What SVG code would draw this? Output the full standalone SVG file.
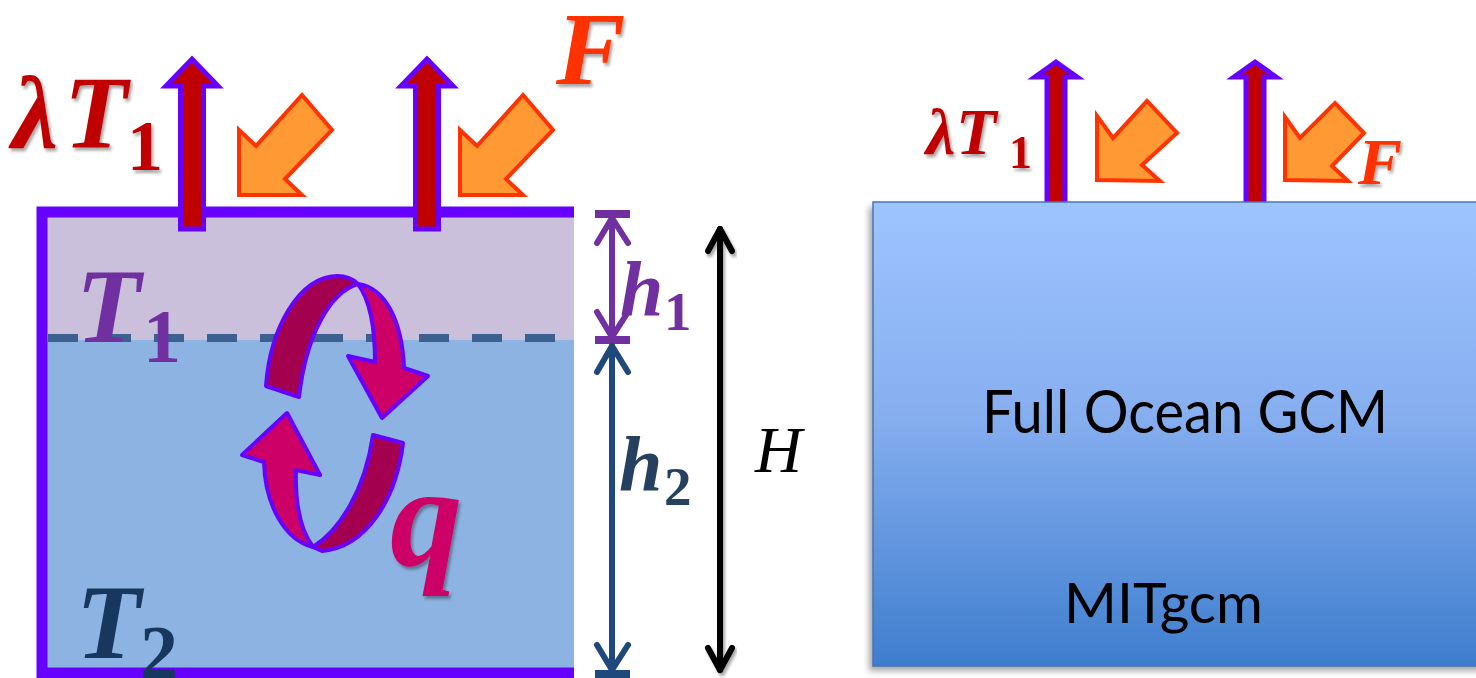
<svg xmlns="http://www.w3.org/2000/svg" width="1476" height="678" viewBox="0 0 1476 678">
<defs>
<style>
.red{fill:#C00000;stroke:#6600FF;stroke-width:5;stroke-linejoin:miter}
.org{fill:#FF9933;stroke:#FF3300;stroke-width:4;stroke-linejoin:miter}
.m{font-family:"Liberation Serif",serif;font-weight:bold;font-style:italic}
.sub{font-family:"Liberation Serif",serif;font-weight:bold;font-style:normal}
.dim{fill:none;stroke-width:6;stroke-linecap:round;stroke-linejoin:round}
.sans{font-family:Lato,"Liberation Sans",sans-serif;fill:#000}
</style>
<filter id="sh" x="-20%" y="-20%" width="140%" height="140%">
<feDropShadow dx="2" dy="3" stdDeviation="1.5" flood-color="#000" flood-opacity="0.35"/>
</filter>
<filter id="bs" x="-10%" y="-10%" width="120%" height="120%">
<feGaussianBlur stdDeviation="3"/>
</filter>
<linearGradient id="gcm" x1="0" y1="0" x2="0" y2="1">
<stop offset="0" stop-color="#9EC4FF"/>
<stop offset="0.45" stop-color="#87AFF0"/>
<stop offset="1" stop-color="#3F7ECE"/>
</linearGradient>
</defs>

<!-- Left panel: two-layer box -->
<g id="box-left">
<rect x="42" y="212" width="532" height="128" fill="#CAC0DC"/>
<rect x="42" y="340" width="532" height="333" fill="#8DB3E2"/>
<line x1="46" y1="338" x2="574" y2="338" stroke="#3C6190" stroke-width="8" stroke-dasharray="30,23" stroke-dashoffset="-2"/>
<path d="M574,212 H42 V673 H574" fill="none" stroke="#6600FF" stroke-width="11"/>
</g>

<g id="flux-left">
<path class="red" d="M180.5,229 V86 H166 L192,59 L218,86 H203.5 V229 Z"/>
<path class="red" d="M415.5,229 V86 H401 L427,59 L453,86 H438.5 V229 Z"/>
<path class="org" d="M239,195 V130 L256,146 L302,95 L332,130 L285,179 L302,195 Z"/>
<path class="org" d="M460,195 V130 L477,146 L523,95 L553,130 L506,179 L523,195 Z"/>
</g>

<g id="label-lambda-left" filter="url(#sh)" fill="#C00000">
<text class="m" x="12" y="148" font-size="104">λ<tspan x="64">T</tspan></text>
<text class="sub" x="127" y="170" font-size="72">1</text>
</g>

<g id="label-F-left" filter="url(#sh)">
<text class="m" x="556" y="84" font-size="104" fill="#FF3300">F</text>
</g>

<g id="label-T1" fill="#7030A0">
<text class="m" x="76" y="342" font-size="106">T</text>
<text class="sub" x="143" y="362" font-size="76">1</text>
</g>

<g id="label-T2" fill="#17375E">
<text class="m" x="76" y="658" font-size="106">T</text>
<text class="sub" x="140" y="678" font-size="76">2</text>
</g>

<g id="circulation" stroke="#6600FF" stroke-width="4" stroke-linejoin="round">
<path d="M266,386 C270,330 298,277 337,276 C346,276 353,279 358,284 C330,292 306,335 299,397 Z" fill="#A30050"/>
<path d="M358,284 C385,288 402,320 404,368 L428,376 L382,418 L348,356 L375,362 C375,325 370,300 358,284 Z" fill="#CC0066"/>
<path d="M373,435 L403,443 C396,500 366,547 322,551 L313,547 C340,530 365,490 373,435 Z" fill="#A30050"/>
<path d="M313,547 C285,540 265,505 264,462 L242,455 L287,413 L320,475 L296,470 C295,505 300,530 313,547 Z" fill="#CC0066"/>
</g>

<g id="label-q" filter="url(#sh)">
<text class="m" x="390" y="565" font-size="145" fill="#CC0066">q</text>
</g>

<!-- Dimension connectors -->
<g id="connectors">
<g stroke="#7030A0" class="dim">
<line x1="612" y1="214" x2="612" y2="338"/>
<line x1="595" y1="214" x2="630" y2="214" stroke-width="8" stroke-linecap="butt"/>
<line x1="595" y1="340" x2="630" y2="340" stroke-width="8" stroke-linecap="butt"/>
<polyline points="597,243 612,218 628,243"/>
<polyline points="597,312 612,337 628,312"/>
</g>
<g stroke="#1F497D" class="dim">
<line x1="612" y1="346" x2="612" y2="672"/>
<line x1="595" y1="674" x2="630" y2="674" stroke-width="8" stroke-linecap="butt"/>
<polyline points="597,372 612,346 628,372"/>
<polyline points="597,645 612,670 628,645"/>
</g>
<g stroke="#000" class="dim" stroke-width="4" filter="url(#sh)">
<line x1="720" y1="229" x2="720" y2="670"/>
<polyline points="708,251 720,229 732,251"/>
<polyline points="708,648 720,670 732,648"/>
</g>
</g>

<g id="label-h1" fill="#7030A0">
<text class="m" x="620" y="315" font-size="78">h</text>
<text class="sub" x="664" y="330" font-size="55">1</text>
</g>
<g id="label-h2" fill="#26405F">
<text class="m" x="619" y="490" font-size="78">h</text>
<text class="sub" x="664" y="505" font-size="55">2</text>
</g>
<g id="label-H">
<text x="755" y="472" font-family="Liberation Serif,serif" font-style="italic" font-size="65" fill="#000">H</text>
</g>

<!-- Right panel -->
<g id="flux-right">
<path class="red" d="M1047,206 V77 H1035 L1056,62 L1077,77 H1065 V206 Z"/>
<path class="red" d="M1246,206 V77 H1234 L1255,62 L1276,77 H1264 V206 Z"/>
<path class="org" d="M1097,180 V116 L1113,138 L1147,101 L1177,133 L1142,165 L1160,181 Z"/>
<path class="org" d="M1285,180 V117 L1300,138 L1335,103 L1364,133 L1332,166 L1348,181 Z"/>
</g>

<g id="box-gcm">
<rect x="869" y="207" width="620" height="464" fill="#000" opacity="0.35" filter="url(#bs)"/>
<rect x="873" y="202" width="610" height="464" fill="url(#gcm)" stroke="#4A76B5" stroke-width="1.5"/>
<text class="sans" x="982" y="433" font-size="60" textLength="406" lengthAdjust="spacingAndGlyphs">Full Ocean GCM</text>
<text class="sans" x="1064" y="623" font-size="56" textLength="199" lengthAdjust="spacingAndGlyphs">MITgcm</text>
</g>

<g id="label-lambda-right" filter="url(#sh)" fill="#C00000">
<text class="m" x="926" y="154" font-size="66">λ<tspan x="956">T</tspan></text>
<text class="sub" x="1009" y="168" font-size="46">1</text>
</g>
<g id="label-F-right" filter="url(#sh)">
<text class="m" x="1358" y="184" font-size="66" fill="#FF3300">F</text>
</g>
</svg>
